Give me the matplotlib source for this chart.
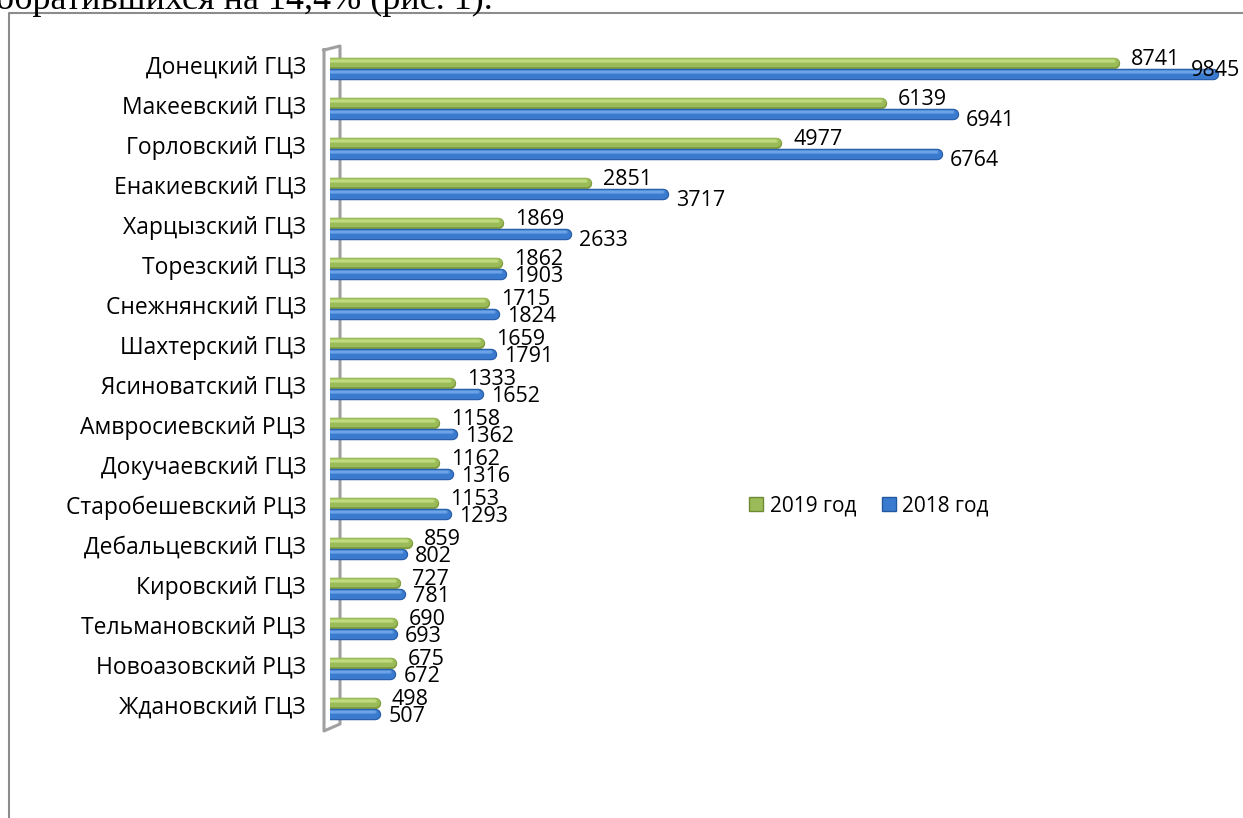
import matplotlib
matplotlib.use("Agg")
import matplotlib.pyplot as plt
from matplotlib.lines import Line2D
import numpy as np

categories = [
    "Донецкий ГЦЗ", "Макеевский ГЦЗ", "Горловский ГЦЗ", "Енакиевский ГЦЗ",
    "Харцызский ГЦЗ", "Торезский ГЦЗ", "Снежнянский ГЦЗ", "Шахтерский ГЦЗ",
    "Ясиноватский ГЦЗ", "Амвросиевский РЦЗ", "Докучаевский ГЦЗ",
    "Старобешевский РЦЗ", "Дебальцевский ГЦЗ", "Кировский ГЦЗ",
    "Тельмановский РЦЗ", "Новоазовский РЦЗ", "Ждановский ГЦЗ",
]
values_2019 = [8741, 6139, 4977, 2851, 1869, 1862, 1715, 1659, 1333, 1158,
               1162, 1153, 859, 727, 690, 675, 498]
values_2018 = [9845, 6941, 6764, 3717, 2633, 1903, 1824, 1791, 1652, 1362,
               1316, 1293, 802, 781, 693, 672, 507]
series_labels = ["2019 год", "2018 год"]

W, H = 1243, 818
DPI = 100
fig = plt.figure(figsize=(W / DPI, H / DPI), dpi=DPI)
fig.patch.set_facecolor("white")

PX = 72.0 / DPI  # points per pixel

label_font = ["Open Sans", "DejaVu Sans"]
FS = 16.5
FS_VAL = 15.5
FS_LEG = 15

# Plot area in pixels
ax_left, ax_right = 330, 1227
ax_top, ax_bottom = 48, 728
ax = fig.add_axes([ax_left / W, 1 - ax_bottom / H,
                   (ax_right - ax_left) / W, (ax_bottom - ax_top) / H])
ax.set_xlim(0, 10000)
n = len(categories)
ax.set_ylim(n - 0.5, -0.5)
ax.axis("off")

y = np.arange(n)
off_green = -5.5 / 40.0
off_blue = 6.0 / 40.0


def cylinder(yv, vals, dark, base, light, shine):
    # layered round-capped strokes give a shaded tube look
    ax.hlines(yv + 0.01, 0, vals, colors=dark, linewidth=11.5 * PX, capstyle="round", zorder=3)
    ax.hlines(yv - 0.005, 0, vals, colors=base, linewidth=9 * PX, capstyle="round", zorder=4)
    ax.hlines(yv - 0.04, 0, vals, colors=light, linewidth=4 * PX, capstyle="round", zorder=5)
    ax.hlines(yv - 0.05, 0, vals, colors=shine, linewidth=1.5 * PX, capstyle="round", zorder=6)


v19 = np.array(values_2019)
v18 = np.array(values_2018)
cylinder(y + off_green, v19, "#82A040", "#9BBB59", "#B0CE6B", "#C6DF88")
cylinder(y + off_blue, v18, "#2A60AA", "#3A7BD0", "#5391DC", "#78A9E8")

# value labels; the lower label sits closer when the two labels share a column
green_texts, blue_texts = [], []
for i in range(n):
    t1 = ax.annotate(str(values_2019[i]), xy=(values_2019[i], y[i] + off_green),
                     xytext=(17, 3), textcoords="offset pixels",
                     ha="left", va="center", fontsize=FS_VAL, family=label_font,
                     color="black", zorder=7, annotation_clip=False)
    t2 = ax.annotate(str(values_2018[i]), xy=(values_2018[i], y[i] + off_blue),
                     xytext=(13, -6), textcoords="offset pixels",
                     ha="left", va="center", fontsize=FS_VAL, family=label_font,
                     color="black", zorder=7, annotation_clip=False)
    green_texts.append(t1)
    blue_texts.append(t2)

# category labels
for i, cat in enumerate(categories):
    ax.annotate(cat, xy=(0, y[i]), xytext=(-24, 0), textcoords="offset pixels",
                ha="right", va="center", fontsize=FS, family=label_font,
                color="black", annotation_clip=False)

# side wall of the 3D plot, behind the bars
wall = [(324, 50), (340, 46), (340, 724), (324, 731), (324, 50)]
ax.add_line(Line2D([p[0] / W for p in wall], [1 - p[1] / H for p in wall],
                   transform=fig.transFigure, clip_on=False,
                   color="#A0A0A0", linewidth=2.2, zorder=1))

# legend
handles = [
    Line2D([], [], linestyle="none", marker="s", markersize=10,
           markerfacecolor="#9BBB59", markeredgecolor="#6F8A35", markeredgewidth=1),
    Line2D([], [], linestyle="none", marker="s", markersize=10,
           markerfacecolor="#3A7BD0", markeredgecolor="#24589E", markeredgewidth=1),
]
fig.legend(handles, series_labels, loc="center left",
           bbox_to_anchor=(749 / W, 1 - 506 / H), ncol=2, frameon=False,
           prop={"family": label_font, "size": FS_LEG}, handlelength=0.7,
           handletextpad=0.3, columnspacing=1.2, borderpad=0, borderaxespad=0)

# frame of the chart object
fig.add_artist(Line2D([9 / W, 9 / W, 1.0], [0.0, 1 - 13 / H, 1 - 13 / H],
                      color="#8C8C8C", linewidth=1.5))

# preceding line of document text, cut off by the top edge
fig.text(-4 / W, 1 - 9 / H, "обратившихся на 14,4% (рис. 1).",
         family=["Liberation Serif", "DejaVu Serif"], fontsize=26,
         ha="left", va="baseline", color="black")

# label layout pass
fig.canvas.draw()
renderer = fig.canvas.get_renderer()
for t1, t2 in zip(green_texts, blue_texts):
    b1 = t1.get_window_extent(renderer)
    b2 = t2.get_window_extent(renderer)
    dx, dy = t2.xyann
    if b2.x0 < b1.x1:
        # labels stacked in one column: pull the lower one up against the upper
        dy = -2
    if b2.x1 > W - 3:
        # keep the label inside the figure
        dx -= b2.x1 - (W - 3)
        dy = 3
    t2.xyann = (dx, dy)

fig.savefig("out.png", dpi=DPI, facecolor="white")
